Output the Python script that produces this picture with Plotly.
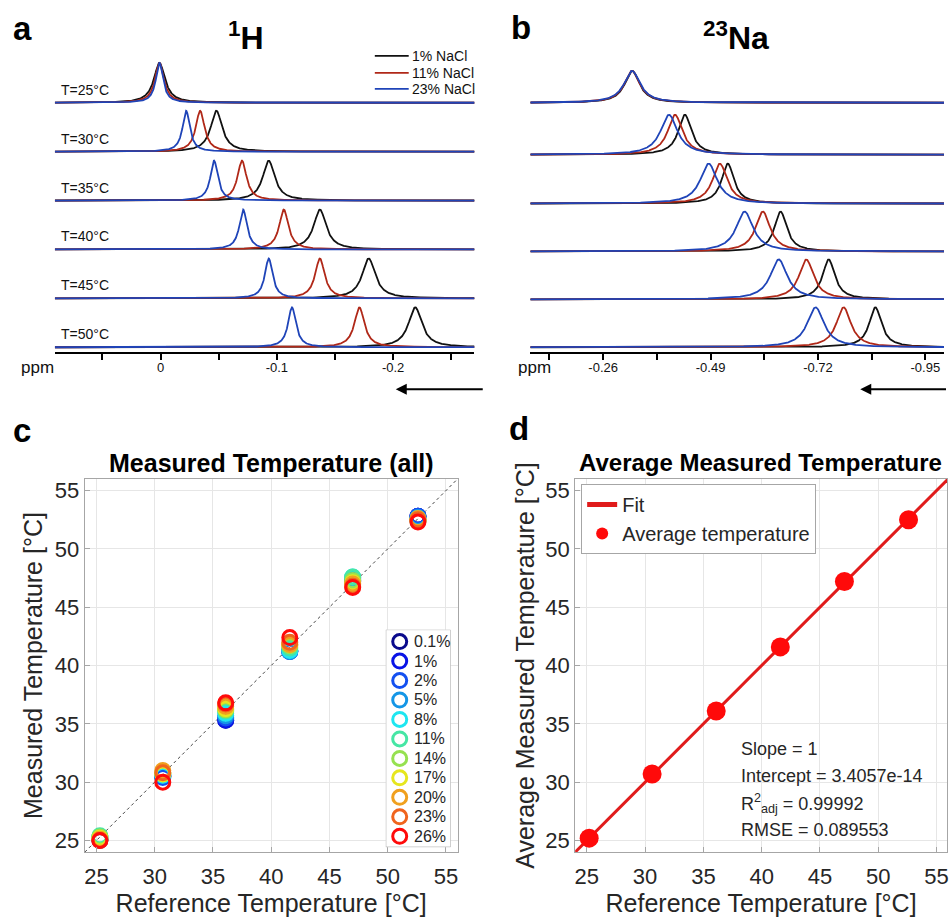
import numpy as np
import plotly.graph_objects as go

# ---------------- data ----------------
row_labels = ["T=25°C", "T=30°C", "T=35°C", "T=40°C", "T=45°C", "T=50°C"]
nacl_labels = ["1% NaCl", "11% NaCl", "23% NaCl"]
nacl_colors = ["#111111", "#b02818", "#1f44b8"]

# 1H spectra: peak position (ppm), half width (ppm), height per temperature row
h_peak_1 = [0.001, -0.048, -0.093, -0.137, -0.179, -0.219]
h_peak_11 = [0.001, -0.034, -0.070, -0.106, -0.137, -0.171]
h_peak_23 = [0.001, -0.022, -0.046, -0.071, -0.093, -0.113]
h_hwhm_1 = [0.0058, 0.0060, 0.0062, 0.0065, 0.0068, 0.0070]
h_hwhm_11 = [0.0046, 0.0046, 0.0047, 0.0048, 0.0050, 0.0052]
h_hwhm_23 = [0.0037, 0.0038, 0.0039, 0.0040, 0.0040, 0.0041]
h_height = [40, 41, 40, 40, 40, 40]

# 23Na spectra
na_peak_1 = [-0.322, -0.435, -0.527, -0.640, -0.743, -0.843]
na_peak_11 = [-0.322, -0.414, -0.510, -0.602, -0.695, -0.775]
na_peak_23 = [-0.322, -0.401, -0.486, -0.563, -0.636, -0.715]
na_hwhm_1 = [0.019, 0.017, 0.016, 0.016, 0.016, 0.016]
na_hwhm_11 = [0.020, 0.019, 0.019, 0.019, 0.019, 0.019]
na_hwhm_23 = [0.021, 0.022, 0.022, 0.022, 0.022, 0.022]
na_height = [32, 40, 40, 40, 40, 40]

h_ticks = [0.0, -0.1, -0.2]
h_ticktext = ["0", "-0.1", "-0.2"]
h_minor = [0.05, -0.05, -0.15, -0.25]
na_ticks = [-0.26, -0.49, -0.72, -0.95]
na_ticktext = ["-0.26", "-0.49", "-0.72", "-0.95"]
na_minor = [-0.145, -0.375, -0.605, -0.835]

# Panel c: measured temperature per NaCl concentration
ref_temp = [25.3, 30.7, 36.1, 41.6, 47.0, 52.6]
conc_labels = ["0.1%", "1%", "2%", "5%", "8%", "11%", "14%", "17%", "20%", "23%", "26%"]
meas_01 = [25.1, 30.5, 35.3, 41.3, 47.2, 52.8]
meas_1 = [25.1, 30.5, 35.3, 41.2, 47.3, 52.8]
meas_2 = [25.0, 30.4, 35.5, 41.2, 47.4, 52.8]
meas_5 = [25.2, 30.6, 35.7, 41.2, 47.5, 52.7]
meas_8 = [25.3, 30.6, 35.9, 41.3, 47.6, 52.6]
meas_11 = [25.4, 30.7, 36.1, 41.5, 47.6, 52.4]
meas_14 = [25.3, 30.8, 36.2, 41.7, 47.3, 52.4]
meas_17 = [25.2, 30.7, 36.3, 41.8, 47.1, 52.5]
meas_20 = [25.1, 31.0, 36.5, 41.8, 47.0, 52.6]
meas_23 = [25.0, 30.8, 36.7, 42.0, 46.8, 52.5]
meas_26 = [25.0, 30.0, 36.8, 42.4, 46.7, 52.3]
conc_colors = ["#0a0a8c", "#0a14e6", "#1450f0", "#1496e6", "#1ee6f0", "#46e6a5",
               "#96e150", "#e6e61e", "#f0a01e", "#f0641e", "#ff0a0a"]

# Panel d: averaged temperatures and linear fit
avg_ref = [25.2, 30.6, 36.1, 41.6, 47.1, 52.6]
avg_meas = [25.2, 30.7, 36.1, 41.6, 47.2, 52.5]
avg_std = [0.15, 0.35, 0.5, 0.4, 0.3, 0.2]
fit_slope = 1.0
fit_intercept = 3.4057e-14
fit_text = ["Slope = 1", "Intercept = 3.4057e-14",
            "R<sup>2</sup><sub>adj</sub> = 0.99992", "RMSE = 0.089553"]
temp_ticks = [25, 30, 35, 40, 45, 50, 55]

# ---------------- layout helpers ----------------
W, H = 949, 919
FONT = "Liberation Sans, Arial, sans-serif"
TXT = "#262626"


def px(x):
    return x / W


def py(y):
    return 1 - y / H


a_offsets = [250, 201, 152, 103, 54, 5]
b_offsets = [250, 198, 149, 101, 53, 5]

fig = go.Figure()


def lorentz(x, c, w, h):
    return h * w ** 2 / ((x - c) ** 2 + w ** 2)


# Panel a
xa = np.linspace(0.091, -0.270, 1500)
for r in range(6):
    for name, pk, hw, col in zip(nacl_labels,
                                 [h_peak_1, h_peak_11, h_peak_23],
                                 [h_hwhm_1, h_hwhm_11, h_hwhm_23], nacl_colors):
        fig.add_trace(go.Scatter(x=xa, y=a_offsets[r] + lorentz(xa, pk[r], hw[r], h_height[r]),
                                 mode="lines", line=dict(color=col, width=1.8),
                                 xaxis="x", yaxis="y", showlegend=False, hoverinfo="skip"))

# Panel b
xb = np.linspace(-0.104, -0.990, 1500)
for r in range(6):
    for name, pk, hw, col in zip(nacl_labels,
                                 [na_peak_1, na_peak_11, na_peak_23],
                                 [na_hwhm_1, na_hwhm_11, na_hwhm_23], nacl_colors):
        fig.add_trace(go.Scatter(x=xb, y=b_offsets[r] + lorentz(xb, pk[r], hw[r], na_height[r]),
                                 mode="lines", line=dict(color=col, width=1.8),
                                 xaxis="x2", yaxis="y2", showlegend=False, hoverinfo="skip"))

# Panel c
fig.add_trace(go.Scatter(x=[24, 56], y=[24, 56], mode="lines",
                         line=dict(color="#444444", width=1, dash="dot"),
                         xaxis="x3", yaxis="y3", showlegend=False))
all_meas = [meas_01, meas_1, meas_2, meas_5, meas_8, meas_11, meas_14,
            meas_17, meas_20, meas_23, meas_26]
for lab, ys, col in zip(conc_labels, all_meas, conc_colors):
    fig.add_trace(go.Scatter(x=ref_temp, y=ys, mode="markers", name=lab,
                             marker=dict(symbol="circle-open", size=14, color=col,
                                         line=dict(width=3, color=col)),
                             xaxis="x3", yaxis="y3", showlegend=False))

# Panel c legend (drawn on its own hidden axes)
idx = list(range(len(conc_labels)))
fig.add_trace(go.Scatter(x=[0.215] * len(idx), y=idx, mode="markers",
                         marker=dict(symbol="circle-open", size=14, color=conc_colors,
                                     line=dict(width=3, color=conc_colors)),
                         xaxis="x5", yaxis="y5", showlegend=False, hoverinfo="skip"))

# Panel d
fx = np.array([24, 56])
fig.add_trace(go.Scatter(x=fx, y=fit_slope * fx + fit_intercept, mode="lines", name="Fit",
                         line=dict(color="#e01b1b", width=3),
                         xaxis="x4", yaxis="y4", showlegend=True))
fig.add_trace(go.Scatter(x=avg_ref, y=avg_meas, mode="markers", name="Average temperature",
                         marker=dict(size=19, color="#ff0a0a"),
                         error_y=dict(type="data", array=avg_std, color="#ff0a0a",
                                      thickness=1.5, width=3),
                         xaxis="x4", yaxis="y4", showlegend=True))

spec_x = dict(showline=True, linecolor="black", linewidth=2, ticks="outside", ticklen=6,
              tickwidth=1.5, tickcolor="black", tickmode="array", showgrid=False,
              zeroline=False, tickfont=dict(size=13, color="#111", family=FONT),
              ticklabelstandoff=-4)
temp_ax = dict(showgrid=True, gridcolor="#e6e6e6", gridwidth=1, showline=True, mirror=True,
               linecolor="#a6a6a6", linewidth=1, ticks="inside", ticklen=5,
               tickcolor="#a6a6a6", tickmode="array", tickvals=temp_ticks,
               tickfont=dict(size=22, color=TXT, family=FONT), zeroline=False,
               ticklabeloverflow="allow")
TTL = dict(size=25, color=TXT)

fig.update_layout(
    width=W, height=H, margin=dict(l=0, r=0, t=0, b=0),
    paper_bgcolor="white", plot_bgcolor="white",
    font=dict(family=FONT, color=TXT),
    xaxis=dict(domain=[px(54), px(475)], range=[0.091, -0.270], anchor="y",
               tickvals=h_ticks, ticktext=h_ticktext,
               minor=dict(tickvals=h_minor, ticks="outside", ticklen=6, tickwidth=1.5,
                          tickcolor="black"), **spec_x),
    yaxis=dict(domain=[py(352), py(52)], range=[0, 300], visible=False, anchor="x"),
    xaxis2=dict(domain=[px(531), px(946)], range=[-0.104, -0.990], anchor="y2",
                tickvals=na_ticks, ticktext=na_ticktext,
                minor=dict(tickvals=na_minor, ticks="outside", ticklen=6, tickwidth=1.5,
                           tickcolor="black"), **spec_x),
    yaxis2=dict(domain=[py(352), py(52)], range=[0, 300], visible=False, anchor="x2"),
    xaxis3=dict(domain=[px(84), px(458)], range=[24, 56], anchor="y3",
                title=dict(text="Reference Temperature [°C]", font=TTL, standoff=2),
                ticklabelstandoff=4, **temp_ax),
    yaxis3=dict(domain=[py(853), py(479)], range=[24, 56], anchor="x3",
                title=dict(text="Measured Temperature [°C]", font=TTL, standoff=5), **temp_ax),
    xaxis4=dict(domain=[px(576), 1.0], range=[24, 55.9], anchor="y4",
                title=dict(text="Reference Temperature [°C]", font=TTL, standoff=2),
                ticklabelstandoff=4, **temp_ax),
    yaxis4=dict(domain=[py(853), py(479)], range=[24, 56], anchor="x4",
                title=dict(text="Average Measured Temperature [°C]", font=TTL, standoff=3),
                **temp_ax),
    xaxis5=dict(domain=[px(386), px(451)], range=[0, 1], visible=False, anchor="y5"),
    yaxis5=dict(domain=[py(848), py(630)], range=[10.56, -0.615], visible=False, anchor="x5"),
    legend=dict(x=px(582), y=py(484), xanchor="left", yanchor="top", bgcolor="white",
                bordercolor="#a6a6a6", borderwidth=1, font=dict(size=20, color=TXT),
                itemsizing="constant", tracegroupgap=0),
)

shapes = []
# c legend box
shapes.append(dict(type="rect", xref="x5", yref="y5", x0=0, x1=1, y0=-0.615, y1=10.56,
                   fillcolor="white", line=dict(color="#a6a6a6", width=1), layer="below"))
# a legend lines
for yy, col in zip([55, 72, 88], nacl_colors):
    shapes.append(dict(type="line", xref="paper", yref="paper", x0=px(375), x1=px(409),
                       y0=py(yy), y1=py(yy), line=dict(color=col, width=1.8)))
fig.update_layout(shapes=shapes)

ann = []
# panel letters
for t, x, y in [("a", 10, 28), ("b", 510, 27), ("c", 10, 430), ("d", 508, 428)]:
    ann.append(dict(text="<b>%s</b>" % t, x=px(x), y=py(y), xref="paper", yref="paper",
                    xanchor="left", yanchor="middle", showarrow=False,
                    font=dict(size=33, color="black")))
# nucleus titles
ann.append(dict(text="<b><sup>1</sup>H</b>", x=px(246), y=py(35), xref="paper", yref="paper",
                xanchor="center", yanchor="middle",
                showarrow=False, font=dict(size=32, color="black")))
ann.append(dict(text="<b><sup>23</sup>Na</b>", x=px(737), y=py(35), xref="paper", yref="paper",
                xanchor="center", yanchor="middle",
                showarrow=False, font=dict(size=32, color="black")))
# row labels a
for lab, off in zip(row_labels, a_offsets):
    ann.append(dict(text=lab, x=px(58), y=off + 13, xref="paper", yref="y", xanchor="left",
                    yanchor="middle", showarrow=False, font=dict(size=14, color="#111")))
# a legend text
for lab, yy in zip(nacl_labels, [55, 72, 88]):
    ann.append(dict(text=lab, x=px(410), y=py(yy), xref="paper", yref="paper",
                    xanchor="left", yanchor="middle", showarrow=False,
                    font=dict(size=14, color="#111")))
# ppm labels
for x in [37, 535]:
    ann.append(dict(text="ppm", x=px(x), y=py(367), xref="paper", yref="paper",
                    xanchor="center", yanchor="middle",
                    showarrow=False, font=dict(size=17, color="#111")))
# arrows
for xh in [396, 862]:
    ann.append(dict(text=" ", x=px(xh), y=py(389), xref="paper", yref="paper",
                    showarrow=True, ax=90, ay=0, arrowhead=2, arrowsize=1.1, arrowwidth=2,
                    arrowcolor="black"))
# panel titles c, d
ann.append(dict(text="<b>Measured Temperature (all)</b>", x=px(271), y=py(463),
                xref="paper", yref="paper", xanchor="center", yanchor="middle",
                showarrow=False, font=dict(size=25, color="black")))
ann.append(dict(text="<b>Average Measured Temperature</b>", x=px(762), y=py(463),
                xref="paper", yref="paper", xanchor="center", yanchor="middle",
                showarrow=False, font=dict(size=24, color="black")))
# c legend text
for i, lab in zip(idx, conc_labels):
    ann.append(dict(text=lab, x=0.41, y=i, xref="x5", yref="y5", xanchor="left",
                    yanchor="middle", showarrow=False, font=dict(size=16, color=TXT)))
# fit statistics
for t, yy in zip(fit_text, [750, 777, 804, 831]):
    ann.append(dict(text=t, x=px(740), y=py(yy), xref="paper", yref="paper", xanchor="left",
                    yanchor="middle", showarrow=False, font=dict(size=18, color=TXT)))
fig.update_layout(annotations=ann)

fig.write_html("out.html", config={"displayModeBar": False},
               post_script="document.body.style.margin='0';document.body.style.overflow='hidden';")
